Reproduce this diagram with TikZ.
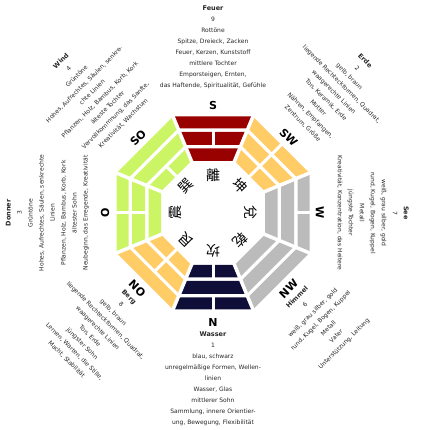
\documentclass[tikz,border=0pt]{standalone}
\usepackage{fontspec}
\setmainfont{DejaVu Sans}
\newfontfamily\cjk{Noto Sans CJK TC}
\definecolor{cRed}{HTML}{990000}
\definecolor{cOra}{HTML}{FFCC66}
\definecolor{cGray}{HTML}{BBBBBB}
\definecolor{cNavy}{HTML}{0E0E38}
\definecolor{cGreen}{HTML}{CCF566}
\newcommand\nm[1]{{\bfseries\fontsize{6.5}{11}\selectfont #1}\\}
\def\cc{0.92388}
\newcommand\trbar[4]{%
  \fill[#4] ({#1-22.5}:{#2/\cc}) -- ({#1+22.5}:{#2/\cc}) -- ({#1+22.5}:{#3/\cc}) -- ({#1-22.5}:{#3/\cc}) -- cycle;}
\begin{document}
\begin{tikzpicture}[x=1pt,y=1pt,
  small/.style={font=\fontsize{6}{11}\selectfont, align=center, inner sep=0pt, text=black!85},
  dirlab/.style={font=\bfseries\fontsize{11}{12}\selectfont, inner sep=0pt},
  hanzi/.style={font=\cjk\fontsize{14}{14}\selectfont, inner sep=0pt},
  gapline/.style={white, line width=3pt}]
\useasboundingbox (-213,-217) rectangle (217,213);
% trigram bars: angle / colour / outer / middle / inner (1 solid, 0 broken)
\foreach \ang/\col/\o/\m/\i in {90/cRed/1/0/1, 45/cOra/0/0/0, 0/cGray/0/1/1, -45/cGray/1/1/1, -90/cNavy/0/1/0, -135/cOra/1/0/0, 180/cGreen/0/0/1, 135/cGreen/1/1/0}{
  \trbar{\ang}{84.5}{96.5}{\col}
  \trbar{\ang}{68}{81}{\col}
  \trbar{\ang}{52}{64.5}{\col}
  \ifnum\o=0 \draw[gapline] (\ang:83) -- (\ang:99); \fi
  \ifnum\m=0 \draw[gapline] (\ang:66.5) -- (\ang:82.5); \fi
  \ifnum\i=0 \draw[gapline] (\ang:50) -- (\ang:66); \fi
}
\foreach \k in {22.5,67.5,...,337.5}{
  \draw[white, line width=3.5pt] (\k:48) -- (\k:112);
}
% Chinese characters
\node[hanzi, rotate=0]    (li)   at (90:38)   {離};
\node[hanzi, rotate=-45]  (kun)  at (45:38)   {坤};
\node[hanzi, rotate=-90]  (dui)  at (0:38)    {兌};
\node[hanzi, rotate=-135] (qian) at (-45:38)  {乾};
\node[hanzi, rotate=180]  (kan)  at (-90:38)  {坎};
\node[hanzi, rotate=135]  (gen)  at (-135:38) {艮};
\node[hanzi, rotate=90]   (zhen) at (180:38)  {震};
\node[hanzi, rotate=45]   (xun)  at (135:38)  {巽};
% direction labels
\node[dirlab, rotate=0]   (dS)  at (90:107)   {S};
\node[dirlab, rotate=-45] (dSW) at (45:107)   {SW};
\node[dirlab, rotate=-90] (dW)  at (0:107)    {W};
\node[dirlab, rotate=45]  (dNW) at (-45:107)  {NW};
\node[dirlab, rotate=0]   (dN)  at (-90:109)  {N};
\node[dirlab, rotate=-45] (dNO) at (-135:107) {NO};
\node[dirlab, rotate=90]  (dO)  at (180:108)  {O};
\node[dirlab, rotate=45]  (dSO) at (135:106)  {SO};
% text blocks, upper half
\node[small, rotate=0, anchor=south] (feuer) at (90:124)
  {\nm{Feuer}9\\Rottöne\\Spitze, Dreieck, Zacken\\Feuer, Kerzen, Kunststoff\\mittlere Tochter\\Emporsteigen, Ernten,\\das Haftende, Spiritualität, Gefühle};
\node[small, rotate=45, anchor=south] (wind) at (135:124)
  {\nm{Wind}4\\Grüntöne\\Hohes, Aufrechtes, Säulen, senkre-\\chte Linien\\Pflanzen, Holz, Bambus, Korb, Kork\\älteste Tochter\\Vervollkommnung, das Sanfte,\\Kreativität, Wachstum};
\node[small, rotate=-45, anchor=south] (erde) at (45:124)
  {\nm{Erde}2\\gelb, braun\\liegende Rechteckformen, Quadrat,\\waagerechte Linien\\Ton, Keramik, Erde\\Mutter\\Nähren, Empfangen,\\Zentrum, Größe};
\node[small, rotate=-90, anchor=south] (see) at (0:124)
  {\nm{See}7\\weiß, grau silber, gold\\rund, Kugel, Bogen, Kuppel\\Metall\\jüngste Tochter\\Kreativität, Konzentration, das Heitere};
\node[small, rotate=90, anchor=south] (donner) at (180:124)
  {\nm{Donner}3\\Grüntöne\\Hohes, Aufrechtes, Säulen, senkrechte\\Linien\\Pflanzen, Holz, Bambus, Korb, Kork\\ältester Sohn\\Neubeginn, das Erregende, Kreativität};
% text blocks, lower half
\node[small, rotate=0, anchor=north] (wasser) at (-90:118.5)
  {\nm{Wasser}1\\blau, schwarz\\unregelmäßige Formen, Wellen-\\linien\\Wasser, Glas\\mittlerer Sohn\\Sammlung, innere Orientier-\\ung, Bewegung, Flexibilität};
\node[small, rotate=45, anchor=north] (himmel) at (-45:116)
  {\nm{Himmel}6\\weiß, grau silber, gold\\rund, Kugel, Bogen, Kuppel\\Metall\\Vater\\Unterstützung, Leitung};
\node[small, rotate=-45, anchor=north] (berg) at (-135:116)
  {\nm{Berg}8\\gelb, braun\\liegende Rechteckformen, Quadrat,\\waagerechte Linien\\Ton, Erde\\jüngster Sohn\\Lernen, Warten, die Stille,\\Macht, Stabilität};
\end{tikzpicture}
\end{document}
